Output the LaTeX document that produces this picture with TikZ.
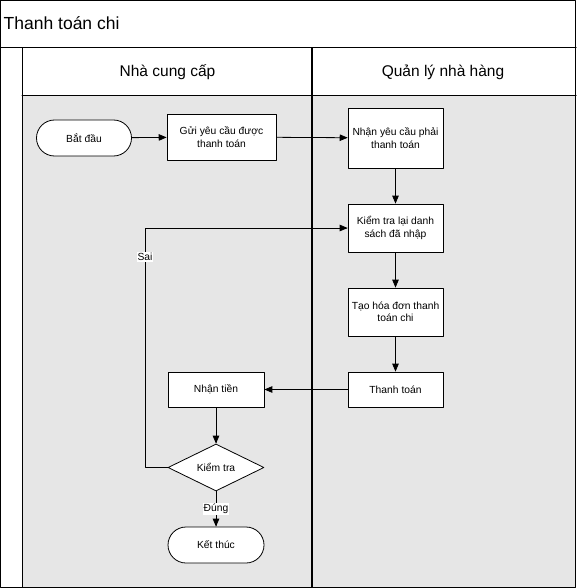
\documentclass[tikz,border=0pt]{standalone}
\usepackage{fontspec}
\setmainfont{Liberation Sans}
\usetikzlibrary{arrows}
\usetikzlibrary{positioning}
\usetikzlibrary{shapes.geometric}

\definecolor{lanegray}{HTML}{E6E6E6}

\begin{document}
\begin{tikzpicture}[line cap=round,line join=round,>=triangle 45,x=1pt,y=-1pt,
  stepbox/.style={draw,fill=white,line width=0.8pt,minimum width=95pt,minimum height=36pt,
    align=center,inner sep=0.5pt,font=\fontsize{10.3}{12.5}\selectfont},
  endbox/.style={draw,fill=white,line width=0.8pt,rounded corners=18pt,minimum width=95pt,
    minimum height=36pt,font=\fontsize{10.3}{12.5}\selectfont},
  checkbox/.style={draw,fill=white,diamond,aspect=2,line width=0.8pt,minimum width=96pt,
    minimum height=47pt,inner sep=0pt,font=\fontsize{10.3}{12.5}\selectfont},
  flow/.style={->,line width=0.8pt},
  tag/.style={fill=white,inner sep=1pt,font=\fontsize{10.3}{12.5}\selectfont}]
\useasboundingbox (0,0) rectangle (576,588);
% lanes
\fill [lanegray] (22,96) rectangle (575,587);
\draw [line width=1pt] (0.5,0.5) rectangle (575.5,587.5);
\draw [line width=1pt] (0,48) -- (576,48);
\draw [line width=1pt] (22,48) -- (22,588);
\draw [line width=1pt] (22,96) -- (576,96);
\draw [line width=1.5pt] (312,48) -- (312,588);
\node [anchor=west,inner sep=0pt,font=\fontsize{17.5}{20}\selectfont] (title) at (3.5,23) {Thanh toán chi};
\node [font=\fontsize{15.5}{18}\selectfont] (ncc) at (167.5,72) {Nhà cung cấp};
\node [font=\fontsize{15.5}{18}\selectfont] (qlnh) at (443,72) {Quản lý nhà hàng};
% nodes
\node [endbox] (batdau) at (84,138) {Bắt đầu};
\node [stepbox,minimum width=109pt,minimum height=46pt] (guiyc) at (221.5,137) {Gửi yêu cầu được\\thanh toán};
\node [stepbox,minimum height=60pt] (nhanyc) at (395.5,138) {Nhận yêu cầu phải\\thanh toán};
\node [stepbox,minimum height=48pt] (kiemds) at (395.5,228) {Kiểm tra lại danh\\sách đã nhập};
\node [stepbox,minimum height=48pt] (taohd) at (395.5,312) {Tạo hóa đơn thanh\\toán chi};
\node [stepbox,minimum height=35pt] (thanhtoan) at (395.5,389.5) {Thanh toán};
\node [stepbox,minimum width=96pt,minimum height=35pt] (nhantien) at (216,389.5) {Nhận tiền};
\node [checkbox] (kiemtra) at (216,467.5) {Kiểm tra};
\node [endbox,minimum width=96pt] (ketthuc) at (216,545) {Kết thúc};
% connectors
\draw [flow] (batdau) -- (guiyc);
\draw [flow] (guiyc) -- (nhanyc);
\draw [flow] (nhanyc) -- (kiemds);
\draw [flow] (kiemds) -- (taohd);
\draw [flow] (taohd) -- (thanhtoan);
\draw [flow] (thanhtoan) -- (nhantien);
\draw [flow] (nhantien) -- (kiemtra);
\draw [flow] (kiemtra) -- node [tag] {Đúng} (ketthuc);
\draw [flow] (kiemtra.west) -- (145,467.5) -- node [tag,pos=0.88] {Sai} (145,228) -- (kiemds.west);
\end{tikzpicture}
\end{document}
